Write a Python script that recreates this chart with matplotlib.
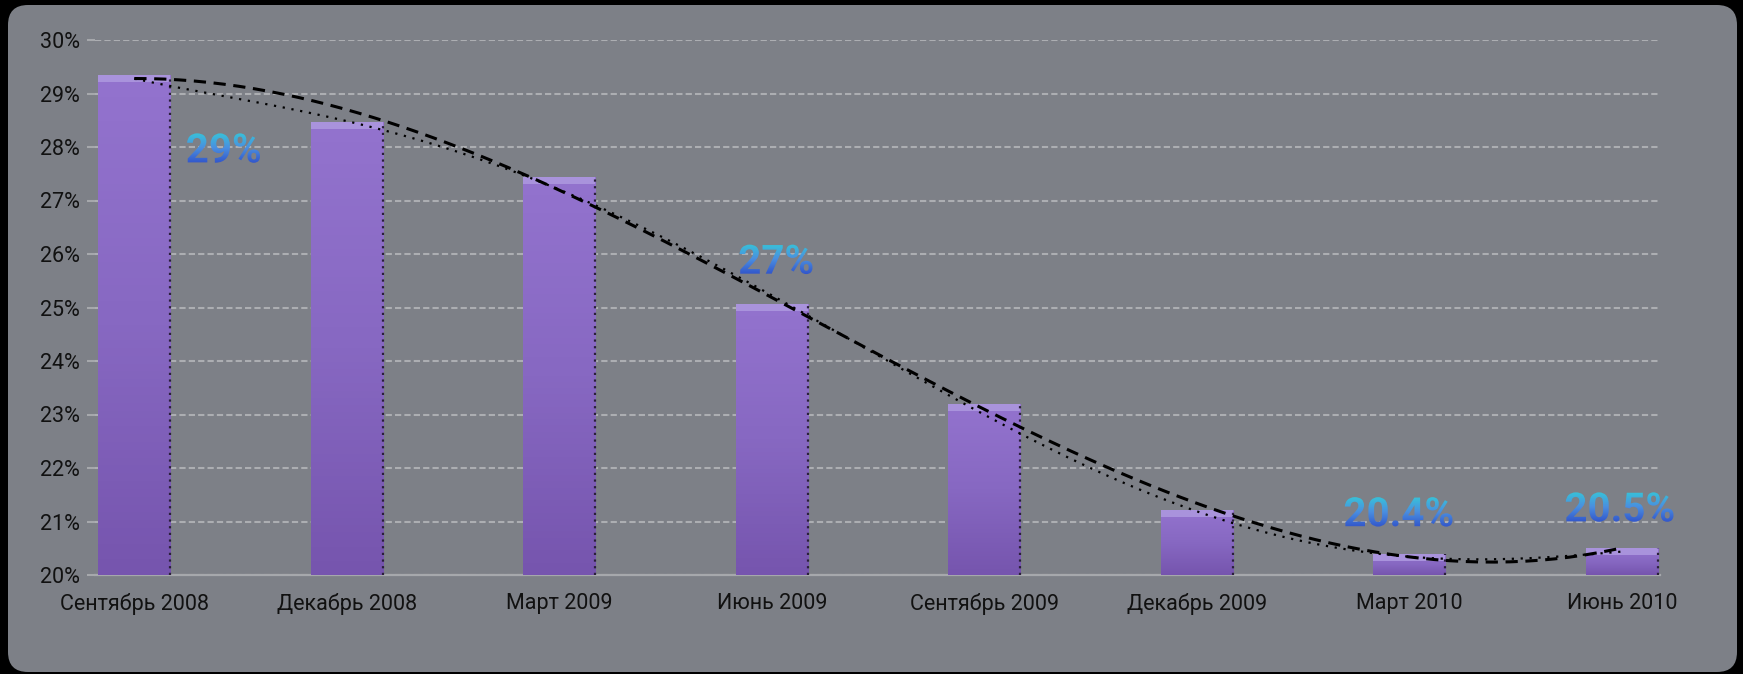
import numpy as np
import matplotlib.pyplot as plt
from matplotlib.patches import FancyBboxPatch, PathPatch
from matplotlib.textpath import TextPath
from matplotlib.font_manager import FontProperties
from matplotlib.colors import LinearSegmentedColormap
from matplotlib import transforms

plt.rcParams['font.family'] = ['Roboto', 'DejaVu Sans']

# unemployment-style share by quarter
months = ['Сентябрь 2008', 'Декабрь 2008', 'Март 2009', 'Июнь 2009',
          'Сентябрь 2009', 'Декабрь 2009', 'Март 2010', 'Июнь 2010']
values = [29.35, 28.47, 27.44, 25.07, 23.2, 21.21, 20.4, 20.5]

# free-floating callouts: text, category index, y level
note_text = ['29%', '27%', '20.4%', '20.5%']
note_x = [0.42, 3.02, 5.95, 6.99]
note_y = [27.98, 25.9, 21.18, 21.27]

W, H, DPI = 1743, 674, 100
fig = plt.figure(figsize=(W / DPI, H / DPI), dpi=DPI, facecolor='black')

# rounded gray panel behind everything
panel = FancyBboxPatch((8, 2), 1729, 667, boxstyle='round,pad=0,rounding_size=20',
                       transform=transforms.IdentityTransform(),
                       facecolor='#7d8087', edgecolor='none', zorder=-5)
fig.patches.append(panel)

ax = fig.add_axes([95 / W, (H - 575) / H, (1660 - 95) / W, (575 - 40) / H])
ax.set_facecolor('none')

x = np.arange(len(months))
bw = 0.34
bars = ax.bar(x, np.array(values) - 20, bottom=20, width=bw, color='#8a68c2',
              edgecolor='none', zorder=3)

# vertical shading inside each bar plus a light bevel on top
grad = np.linspace(0, 1, 64).reshape(-1, 1)
cmap = LinearSegmentedColormap.from_list('bar', ['#7655ae', '#8768c2', '#9373ce'])
for b, v in zip(bars, values):
    x0 = b.get_x()
    im = ax.imshow(grad, cmap=cmap, aspect='auto', origin='lower',
                   extent=(x0, x0 + bw, 20, v), zorder=3.1)
    im.set_clip_path(b)
    top = min(0.13, (v - 20) * 0.5)
    ax.bar(x0 + bw / 2, top, bottom=v - top, width=bw, color='#a993dc',
           edgecolor='none', zorder=3.2)
    ax.plot([x0 + bw, x0 + bw], [20, v], color='#2a1f3a', lw=1.6, ls=(0, (1, 2)),
            zorder=3.3)

# polynomial trend lines through the bar values
xs = np.linspace(0, 7, 200)
p3 = np.polyfit(x, values, 3)
p5 = np.polyfit(x, values, 5)
ax.plot(xs, np.polyval(p3, xs), color='black', lw=2.2, ls=(0, (4, 2.5)), zorder=5)
ax.plot(xs, np.polyval(p5, xs) - 0.06, color='black', lw=1.6, ls=(0, (1, 3)), zorder=5)

ax.set_yticks(range(20, 31))
ax.set_yticklabels([f'{t}%' for t in range(20, 31)])
ax.set_xticks(x)
ax.set_xticklabels(months)
ax.grid(axis='y', color='#acaeb2', lw=1.5, ls=(0, (3, 1.5)), zorder=1)
for s in ['top', 'right', 'left']:
    ax.spines[s].set_visible(False)
ax.spines['bottom'].set_color('#a6a8ac')
ax.spines['bottom'].set_linewidth(1.6)
ax.tick_params(axis='y', length=6, color='#a6a8ac', width=1.5, pad=5,
               labelsize=15.5, labelcolor='#111111')
ax.tick_params(axis='x', length=0, pad=13, labelsize=15.5, labelcolor='#111111')
ax.set_xlim(-0.185, 7.18)
ax.set_ylim(20, 30)

# gradient-filled bold callouts
fig.canvas.draw()
fp = FontProperties(family=['Roboto', 'DejaVu Sans'], weight='bold')
tcmap = LinearSegmentedColormap.from_list('txt', ['#2f4fc8', '#4a8ee0', '#36c8d8'])
inv = ax.transData.inverted()
s = DPI / 72.0
for t, tx, ty in zip(note_text, note_x, note_y):
    tp = TextPath((0, 0), t, size=29, prop=fp)
    ext = tp.get_extents()
    cx, cy = ax.transData.transform((tx, ty))
    tr = transforms.Affine2D().translate(-(ext.x0 + ext.x1) / 2, -(ext.y0 + ext.y1) / 2) \
        .scale(s).translate(cx, cy)
    patch = PathPatch(tp, transform=tr, facecolor='none', edgecolor='none')
    patch.set_clip_on(False)
    ax.add_patch(patch)
    hw, hh = ext.width * s / 2 + 2, ext.height * s / 2 + 2
    dx0, dy0 = inv.transform((cx - hw, cy - hh))
    dx1, dy1 = inv.transform((cx + hw, cy + hh))
    im = ax.imshow(grad, cmap=tcmap, aspect='auto', origin='lower',
                   extent=(dx0, dx1, dy0, dy1), zorder=6)
    im.set_clip_box(fig.bbox)
    im.set_clip_path(patch)

ax.set_xlim(-0.185, 7.18)
ax.set_ylim(20, 30)

fig.savefig('out.png', dpi=DPI, facecolor='black')
